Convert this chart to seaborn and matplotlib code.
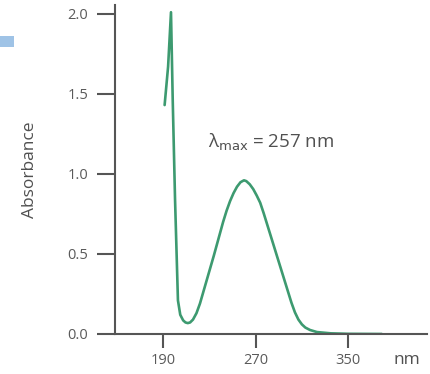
import numpy as np
import pandas as pd
import matplotlib
matplotlib.use("Agg")
import matplotlib.pyplot as plt
import seaborn as sns

# absorbance spectrum
wavelength = [191.5, 194.5, 197, 198.5, 200.5, 203, 205, 207.5, 209.5, 211.5, 213.5,
              216, 219, 222, 226, 230, 234, 238, 242, 245, 248, 251, 254, 257, 260,
              262, 265, 268, 271, 274, 277, 280, 283, 286, 289, 292, 295, 298, 301,
              304, 307, 310, 313, 317, 323, 335, 350, 379]
absorbance = [1.43, 1.67, 2.01, 1.46, 0.84, 0.21, 0.12, 0.085, 0.072, 0.068, 0.072,
              0.09, 0.13, 0.19, 0.29, 0.39, 0.49, 0.595, 0.70, 0.77, 0.83, 0.88, 0.92, 0.948, 0.96,
              0.955, 0.935, 0.905, 0.865, 0.82, 0.755, 0.685, 0.615, 0.545, 0.475, 0.405, 0.335, 0.265, 0.195,
              0.135, 0.09, 0.06, 0.04, 0.025, 0.012, 0.004, 0.001, 0.0]
x_ticks = [190, 270, 350]
y_ticks = [0.0, 0.5, 1.0, 1.5, 2.0]

df = pd.DataFrame({"nm": wavelength, "A": absorbance})

sns.set_style("ticks")
plt.rcParams["font.family"] = ["Open Sans", "DejaVu Sans"]

fig = plt.figure(figsize=(4.3, 3.74), dpi=100)
ax = fig.add_axes([0.267, 0.107, 0.726, 0.88])

sns.lineplot(data=df, x="nm", y="A", ax=ax, color="#3d9a70", linewidth=1.9)

ax.set_xlim(148.5, 418)
ax.set_ylim(0, 2.056)
ax.set_xticks(x_ticks)
ax.set_yticks(y_ticks)
ax.set_yticklabels([f"{v:.1f}" for v in y_ticks])
ax.set_xlabel("")
ax.set_ylabel("Absorbance", fontsize=12.5, color="#505050", labelpad=21)

for side in ["top", "right"]:
    ax.spines[side].set_visible(False)
for side in ["left", "bottom"]:
    ax.spines[side].set_color("#555555")
    ax.spines[side].set_linewidth(1.5)
ax.tick_params(axis="both", colors="#555555", labelcolor="#5a5a5a",
               labelsize=10.5, width=1.5)
ax.tick_params(axis="y", length=13, pad=6)
ax.tick_params(axis="x", length=10, pad=4)

ax.text(229, 1.1625, "λ$_{\\mathrm{max}}$ = 257 nm", fontsize=13.5,
        color="#505050", va="baseline", ha="left")
fig.text(0.947, 0.037, "nm", fontsize=12.5, color="#505050", ha="center", va="center")

# small blue mark at top left of the original crop
fig.patches.append(plt.Rectangle((0, 0.874), 0.033, 0.03, transform=fig.transFigure,
                                 facecolor="#9fc3e6", edgecolor="none"))

fig.savefig("out.png", dpi=100)
